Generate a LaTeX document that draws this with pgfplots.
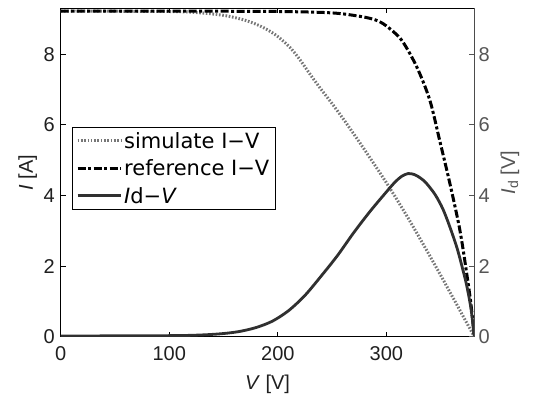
\documentclass[border=0pt]{standalone}
\usepackage{fontspec}
\setmainfont{Liberation Sans}
\newfontfamily\legfont{DejaVu Sans}
\usepackage{pgfplots}
\pgfplotsset{compat=1.18}
\definecolor{simgray}{HTML}{777777}
\definecolor{idcol}{HTML}{303030}
\definecolor{rgray}{HTML}{555555}

\pgfplotstableread{
V I
0 9.22
100 9.21
130 9.17
150 9.10
160 9.04
170 8.96
180 8.85
190 8.70
200 8.50
211 8.20
220 7.86
230 7.42
240 7.00
250 6.60
260 6.18
270 5.74
280 5.29
290 4.83
300 4.36
310 3.87
320 3.36
330 2.83
340 2.29
350 1.74
360 1.18
370 0.62
381 0
}\simdata

\pgfplotstableread{
V I
0 9.22
100 9.22
200 9.21
250 9.17
276 9.07
290 8.97
300 8.80
314 8.40
328 7.64
340 6.70
349 5.57
358.5 4.34
367.7 3.02
374 1.79
378 0.9
381 0
}\refdata

\pgfplotstableread{
V I
0 0.02
100 0.03
130 0.05
150 0.09
165 0.15
180 0.26
195 0.44
210 0.74
225 1.17
240 1.72
255 2.30
270 2.95
285 3.55
300 4.10
308 4.38
314 4.54
320 4.62
326 4.59
332 4.48
337 4.34
345 4.02
352 3.62
358 3.15
365 2.52
370 1.95
374 1.45
378 0.78
381 0
}\iddata

\begin{document}
\begin{tikzpicture}
\begin{axis}[
  at={(0,0)}, anchor=south west,
  scale only axis, width=413.6pt, height=328.4pt,
  xmin=0, xmax=381, ymin=0, ymax=9.3,
  xtick={0,100,200,300}, ytick={0,2,4,6,8},
  xtick pos=both, ytick pos=left,
  tick align=inside, major tick length=5pt,
  tick style={line width=0.8pt, color=black},
  axis line style={line width=1pt},
  /pgf/number format/assume math mode=true,
  tick label style={font=\fontsize{20}{24}\selectfont, color=black!88},
  xticklabel style={yshift=-6.6pt},
  yticklabel style={xshift=-2.3pt},
  label style={font=\fontsize{20}{24}\selectfont, color=black!88},
  xlabel={\textit{V} [V]}, ylabel={\textit{I} [A]},
  xlabel style={at={(axis description cs:0.5,-0.1593)}, anchor=base},
  ylabel style={at={(axis description cs:-0.067,0.5)}, anchor=base},
  legend cell align=left,
  legend image code/.code={\draw[#1] (0pt,0pt) -- (43pt,0pt);},
  legend style={at={(0.0273,0.6385)}, anchor=north west, draw=black,
    fill=white, font=\legfont\fontsize{21}{25}\selectfont, inner xsep=4pt, inner ysep=3pt,
    row sep=6pt},
]
\addplot[color=simgray, line width=3pt, dash pattern=on 1.6pt off 1.7pt, smooth] table[x=V,y=I] {\simdata};
\addlegendentry{simulate I−V}
\addplot[color=black, line width=3pt, dash pattern=on 8pt off 2.5pt on 3pt off 2.5pt, smooth] table[x=V,y=I] {\refdata};
\addlegendentry{reference I−V}
\addplot[color=idcol, line width=2.8pt, smooth] table[x=V,y=I] {\iddata};
\addlegendentry{\textit{I}d−\textit{V}}
\end{axis}
\begin{axis}[
  at={(0,0)}, anchor=south west,
  scale only axis, width=413.6pt, height=328.4pt,
  xmin=0, xmax=381, ymin=0, ymax=9.3,
  axis x line=none, axis y line*=right,
  ytick={0,2,4,6,8},
  tick align=inside, major tick length=5pt,
  tick style={line width=0.8pt, color=rgray},
  y axis line style={line width=1pt, color=black!70},
  /pgf/number format/assume math mode=true,
  tick label style={font=\fontsize{20}{24}\selectfont, color=rgray},
  yticklabel style={xshift=0.7pt},
  label style={font=\fontsize{20}{24}\selectfont, color=rgray},
  ylabel={\textit{I}\textsubscript{d} [V]},
  ylabel style={at={(axis description cs:1.0984,0.5)}, anchor=base},
]
\end{axis}
\pgfresetboundingbox
\useasboundingbox (-60.7pt,-57.3pt) rectangle (473.3pt,336.7pt);
\end{tikzpicture}
\end{document}
